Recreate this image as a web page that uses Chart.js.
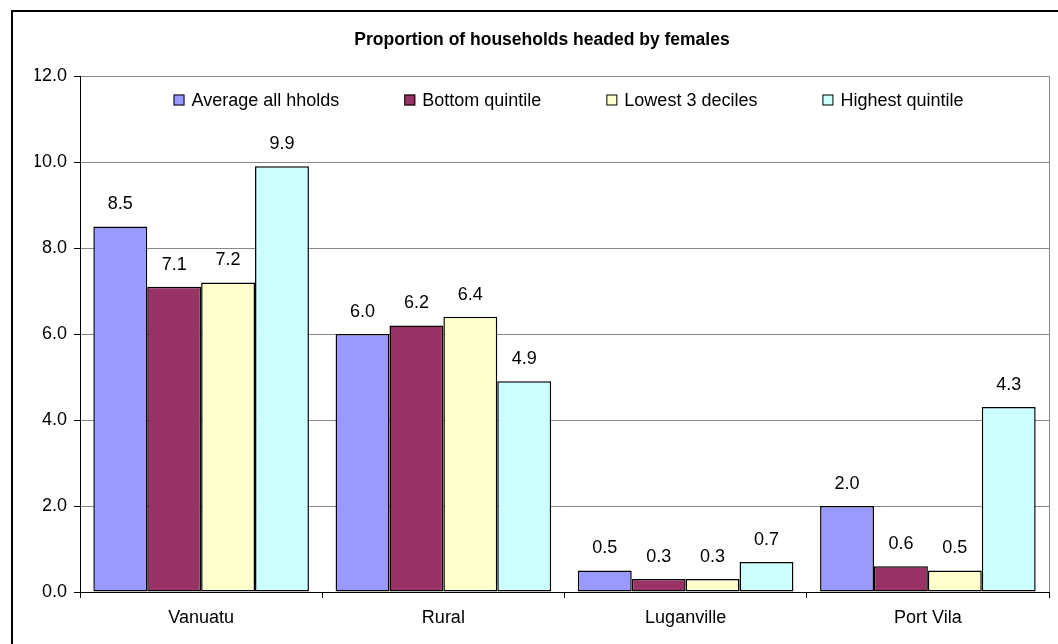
<!DOCTYPE html>
<html>
<head>
<meta charset="utf-8">
<script src="https://cdn.jsdelivr.net/npm/chart.js@4/dist/chart.umd.min.js"></script>
<style>
  body { margin: 0; background: #fff; }
  canvas { display: block; }
</style>
</head>
<body>
<canvas id="chart" width="1058" height="644"></canvas>
<script>
// areas along the x axis
const areas = ['Vanuatu', 'Rural', 'Luganville', 'Port Vila'];

// share of households headed by females, per group
const averageAll = [8.5, 6.0, 0.5, 2.0];
const bottomQuintile = [7.1, 6.2, 0.3, 0.6];
const lowest3Deciles = [7.2, 6.4, 0.3, 0.5];
const highestQuintile = [9.9, 4.9, 0.7, 4.3];

const seriesNames = ['Average all hholds', 'Bottom quintile', 'Lowest 3 deciles', 'Highest quintile'];
const seriesColors = ['#9999ff', '#993366', '#ffffcc', '#ccffff'];

const FONT = "'Liberation Sans', Arial, sans-serif";

// outer frame and plot area outline
const framePlugin = {
  id: 'frame',
  beforeDraw(chart) {
    const ctx = chart.ctx;
    const a = chart.chartArea;
    ctx.save();
    ctx.fillStyle = '#fff';
    ctx.fillRect(0, 0, chart.width, chart.height);
    ctx.strokeStyle = '#000';
    ctx.lineWidth = 2;
    ctx.strokeRect(12, 11, chart.width + 40, chart.height + 40);
    ctx.strokeStyle = '#888';
    ctx.lineWidth = 1;
    ctx.strokeRect(a.left + 0.5, a.top + 0.5, a.right - a.left, a.bottom - a.top);
    ctx.restore();
  }
};

// one-row legend laid over the top of the plot area
const innerLegend = {
  id: 'innerLegend',
  afterDatasetsDraw(chart) {
    const ctx = chart.ctx;
    const a = chart.chartArea;
    const box = 11, gap = 7, spacing = 65;
    ctx.save();
    ctx.font = '18px ' + FONT;
    const items = chart.data.datasets.map(ds => ({
      text: ds.label,
      color: ds.backgroundColor,
      w: box + gap + ctx.measureText(ds.label).width
    }));
    const total = items.reduce((s, it) => s + it.w, 0) + spacing * (items.length - 1);
    let x = (a.left + a.right) / 2 + 4 - total / 2;
    const y = a.top + 24;
    ctx.textBaseline = 'middle';
    ctx.textAlign = 'left';
    items.forEach(it => {
      ctx.fillStyle = it.color;
      ctx.fillRect(x, y - box / 2, box, box);
      ctx.strokeStyle = '#000';
      ctx.lineWidth = 1;
      ctx.strokeRect(x + 0.5, y - box / 2 + 0.5, box - 1, box - 1);
      ctx.fillStyle = '#000';
      ctx.fillText(it.text, x + box + gap, y + 1);
      x += it.w + spacing;
    });
    ctx.restore();
  }
};

// value written above each bar
const valueLabels = {
  id: 'valueLabels',
  afterDatasetsDraw(chart) {
    const ctx = chart.ctx;
    ctx.save();
    ctx.font = '18px ' + FONT;
    ctx.fillStyle = '#000';
    ctx.textAlign = 'center';
    ctx.textBaseline = 'middle';
    chart.data.datasets.forEach((ds, i) => {
      chart.getDatasetMeta(i).data.forEach((bar, j) => {
        ctx.fillText(ds.data[j].toFixed(1), bar.x, bar.y - 22);
      });
    });
    ctx.restore();
  }
};

new Chart('chart', {
  type: 'bar',
  data: {
    labels: areas,
    datasets: [averageAll, bottomQuintile, lowest3Deciles, highestQuintile].map((d, i) => ({
      label: seriesNames[i],
      data: d,
      backgroundColor: seriesColors[i],
      borderColor: '#000',
      borderWidth: 1.5,
      borderSkipped: false,
      categoryPercentage: 0.89,
      barPercentage: 1
    }))
  },
  options: {
    responsive: false,
    animation: false,
    layout: { padding: { left: 35, right: 9, top: 0, bottom: 0 } },
    plugins: {
      tooltip: { enabled: false },
      legend: { display: false },
      title: {
        display: true,
        text: 'Proportion of households headed by females',
        color: '#000',
        font: { family: FONT, size: 17.5, weight: 'bold' },
        padding: { top: 30, bottom: 25 }
      }
    },
    scales: {
      x: {
        afterFit(s) { s.height = 52; },
        grid: { offset: true, drawOnChartArea: false, tickLength: 6, tickColor: '#000' },
        border: { color: '#000', width: 1 },
        ticks: { color: '#000', padding: 9, font: { family: FONT, size: 18 } }
      },
      y: {
        min: 0,
        max: 12,
        afterFit(s) { s.width = 45; },
        grid: {
          color: ctx => ctx.tick && ctx.tick.value === 0 ? '#000' : '#888',
          tickLength: 6,
          tickColor: '#000'
        },
        border: { color: '#000', width: 1 },
        ticks: {
          stepSize: 2,
          color: '#000',
          padding: 7,
          font: { family: FONT, size: 18 },
          callback: v => v.toFixed(1)
        }
      }
    }
  },
  plugins: [framePlugin, innerLegend, valueLabels]
});
</script>
</body>
</html>
